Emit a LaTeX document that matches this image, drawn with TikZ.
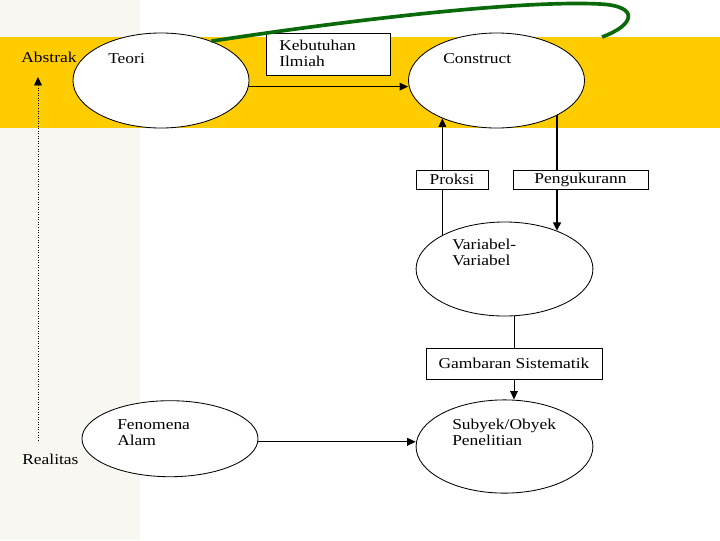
\documentclass[tikz,border=0pt]{standalone}
\usepackage{fontspec}
\setmainfont[FakeStretch=1.16]{Liberation Serif}
\usetikzlibrary{calc,shapes,arrows.meta}
\definecolor{bandyellow}{RGB}{255,204,0}
\definecolor{curvegreen}{RGB}{10,105,10}
\definecolor{stripgray}{RGB}{248,247,242}
\tikzset{
  oval/.style={draw, ellipse, fill=white, inner sep=0pt, line width=0.6pt},
  box/.style={draw, rectangle, fill=white, inner sep=0pt, line width=0.6pt, font=\fontsize{10.7}{11}\selectfont},
  txt/.style={anchor=base west, inner sep=0pt, align=left, font=\fontsize{10.7}{11}\selectfont},
  arr/.style={-{Triangle[length=6pt,width=5.5pt]}, line width=0.6pt}
}

\begin{document}
\begin{tikzpicture}[x=0.025cm, y=-0.025cm]
                    \useasboundingbox (0,0) rectangle (720,540);
                    \fill [stripgray] (0,0) rectangle (140,540);
                    \fill [bandyellow] (0,37) rectangle (720,128);

                    \node [oval, minimum width=4.4cm, minimum height=2.375cm] (teori) at (161,80.5) {};
                    \node [oval, minimum width=4.4cm, minimum height=2.375cm] (construct) at (496.5,80.5) {};
                    \node [oval, minimum width=4.42cm, minimum height=2.35cm] (variabel) at (504.5,269) {};
                    \node [oval, minimum width=4.42cm, minimum height=2.33cm] (subyek) at (504.5,446.5) {};
                    \node [oval, minimum width=4.4cm, minimum height=1.9cm] (fenomena) at (170,438.7) {};

                    \node [box, minimum width=3.1cm, minimum height=1.05cm] (kebutuhan) at (328,54) {};
                    \node [box, minimum width=1.8cm, minimum height=0.475cm] (proksi) at (452,179.5) {Proksi};
                    \node [box, minimum width=3.375cm, minimum height=0.475cm] (pengukuran) at (580.5,179.5) {Pengukurann};
                    \node [box, minimum width=4.4cm, minimum height=0.775cm] (gambaran) at (514,363.5) {Gambaran Sistematik};

                    \coordinate (greenend) at (602,37);
                    \draw [curvegreen, line width=2.6pt] (teori.38) .. controls (350,20) and (520,0) .. (600,4)
                        .. controls (640,6) and (635,25) .. (greenend);

                    % last line sits on the given baseline
                    \node [txt] (abstrak) at (21,62) {Abstrak};
                    \node [txt] (realitas) at (22,464) {Realitas};
                    \node [txt] (teoritxt) at (108,63) {Teori};
                    \node [txt] (constructtxt) at (443,63) {Construct};
                    \node [txt] (kebutuhantxt) at (279,66) {Kebutuhan\\Ilmiah};
                    \node [txt] (variabeltxt) at (452,265) {Variabel-\\Variabel};
                    \node [txt] (fenomenatxt) at (117,445) {Fenomena\\Alam};
                    \node [txt] (subyektxt) at (452,445) {Subyek/Obyek\\Penelitian};

                    \coordinate (uptip) at (38,77);
                    \coordinate (downtip) at (38,440);
                    \draw [arr, {Triangle[length=6pt,width=5.5pt]}-, dash pattern=on 0.6pt off 1.2pt] (uptip) -- (downtip);

                    \draw [arr] (teori.-4) -- (teori.-4 -| construct.west);
                    \draw [arr] (fenomena.-2) -- (fenomena.-2 -| subyek.west);
                    \draw [arr] (proksi.north -| construct.215) -- (construct.215);
                    \draw (variabel.151 -| construct.215) -- (proksi.south -| construct.215);
                    \draw [line width=1.4pt] (construct.330) -- (pengukuran.north -| construct.330);
                    \draw [arr, line width=1.4pt] (pengukuran.south -| construct.330) -- (variabel.36 -| construct.330);
                    \draw [line width=0.6pt] (variabel.south -| gambaran.north) -- (gambaran.north);
                    \draw [arr] (gambaran.south) -- (gambaran.south |- subyek.north);
\end{tikzpicture}
\end{document}
